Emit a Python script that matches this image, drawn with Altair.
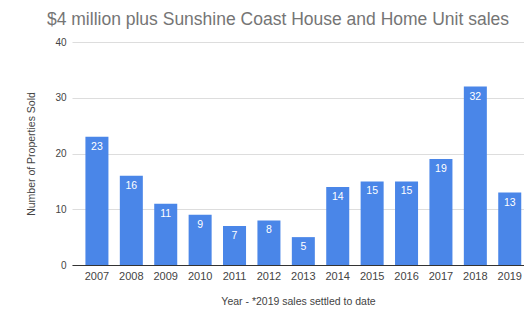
import altair as alt
import pandas as pd

years = ["2007", "2008", "2009", "2010", "2011", "2012", "2013",
         "2014", "2015", "2016", "2017", "2018", "2019"]
sales = [23, 16, 11, 9, 7, 8, 5, 14, 15, 15, 19, 32, 13]

df = pd.DataFrame({"Year": years, "Sold": sales})

FONT = "Liberation Sans"

x = alt.X("Year:N", sort=years,
          scale=alt.Scale(paddingInner=0.331, paddingOuter=0.235, align=0.83),
          axis=alt.Axis(title="Year - *2019 sales settled to date", labelAngle=0,
                        ticks=False, domainColor="#333333", labelColor="#444444",
                        labelFontSize=11, labelPadding=5, titleFontSize=10.5,
                        titleFontWeight="normal", titleColor="#444444",
                        titlePadding=15, labelFont=FONT, titleFont=FONT))
y = alt.Y("Sold:Q", scale=alt.Scale(domain=[0, 40]),
          axis=alt.Axis(title="Number of Properties Sold", values=[0, 10, 20, 30, 40],
                        ticks=False, domain=False, gridColor="#dddddd",
                        labelColor="#444444", labelFontSize=10, labelPadding=6,
                        titleFontSize=10.5, titleFontWeight="normal", titleColor="#444444",
                        titlePadding=18, labelFont=FONT, titleFont=FONT))

bars = alt.Chart(df).mark_bar(color="#4a86e8").encode(x=x, y=y)
labels = alt.Chart(df).mark_text(color="white", baseline="top", dy=5,
                                 fontSize=10.5, font=FONT).encode(
    x=alt.X("Year:N", sort=years), y="Sold:Q", text="Sold:Q")

chart = (bars + labels).properties(
    width=452, height=223,
    title=alt.TitleParams("$4 million plus Sunshine Coast House and Home Unit sales",
                          fontSize=17.5, color="#757575", font=FONT, fontWeight="normal",
                          anchor="middle", frame="group", dx=-20, offset=9),
    autosize=alt.AutoSizeParams(type="none"),
    padding={"left": 64, "top": 34, "right": 0, "bottom": 45},
).configure_view(stroke=None)

chart.save("out.html", embed_options={"renderer": "svg", "actions": False})
